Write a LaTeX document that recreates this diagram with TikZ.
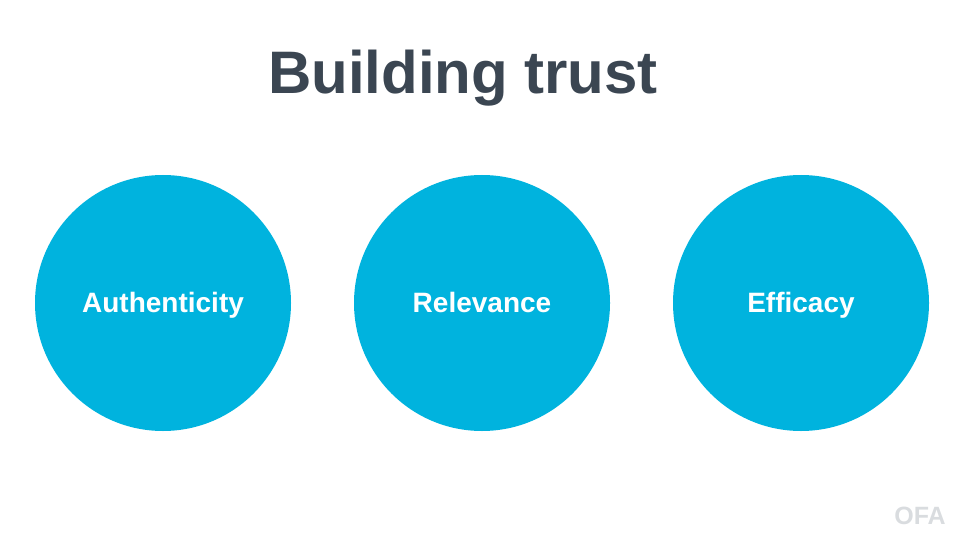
\documentclass[tikz,border=0pt]{standalone}
\usepackage{fontspec}
\setmainfont{Liberation Sans}
\usetikzlibrary{
  positioning
}
\definecolor{circleblue}{HTML}{00B3DE}
\definecolor{titlegray}{HTML}{3B4652}
\definecolor{logogray}{HTML}{D9DCDF}

\begin{document}
\begin{tikzpicture}[x=1pt,y=-1pt]
\useasboundingbox (0,0) rectangle (960,540);
% -------------------------
% Nodes
% -------------------------
\begin{scope}[
  every node/.style={circle, fill=circleblue, text=white, minimum size=256pt, inner sep=0pt, text height=24pt, text depth=6pt, font=\bfseries\fontsize{28}{32}\selectfont}
]
\node (authenticity) at (163, 303) {Authenticity};
\node (relevance)    at (482, 303) {Relevance};
\node (efficacy)     at (801, 303) {Efficacy};
\end{scope}

% Title and logo
\node[text=titlegray, anchor=base, font=\bfseries\fontsize{60}{72}\selectfont] (title) at (463, 94) {Building trust};
\node[text=logogray, anchor=base, font=\bfseries\fontsize{25}{28}\selectfont] (logo) at (920, 524) {OFA};
\end{tikzpicture}
\end{document}
